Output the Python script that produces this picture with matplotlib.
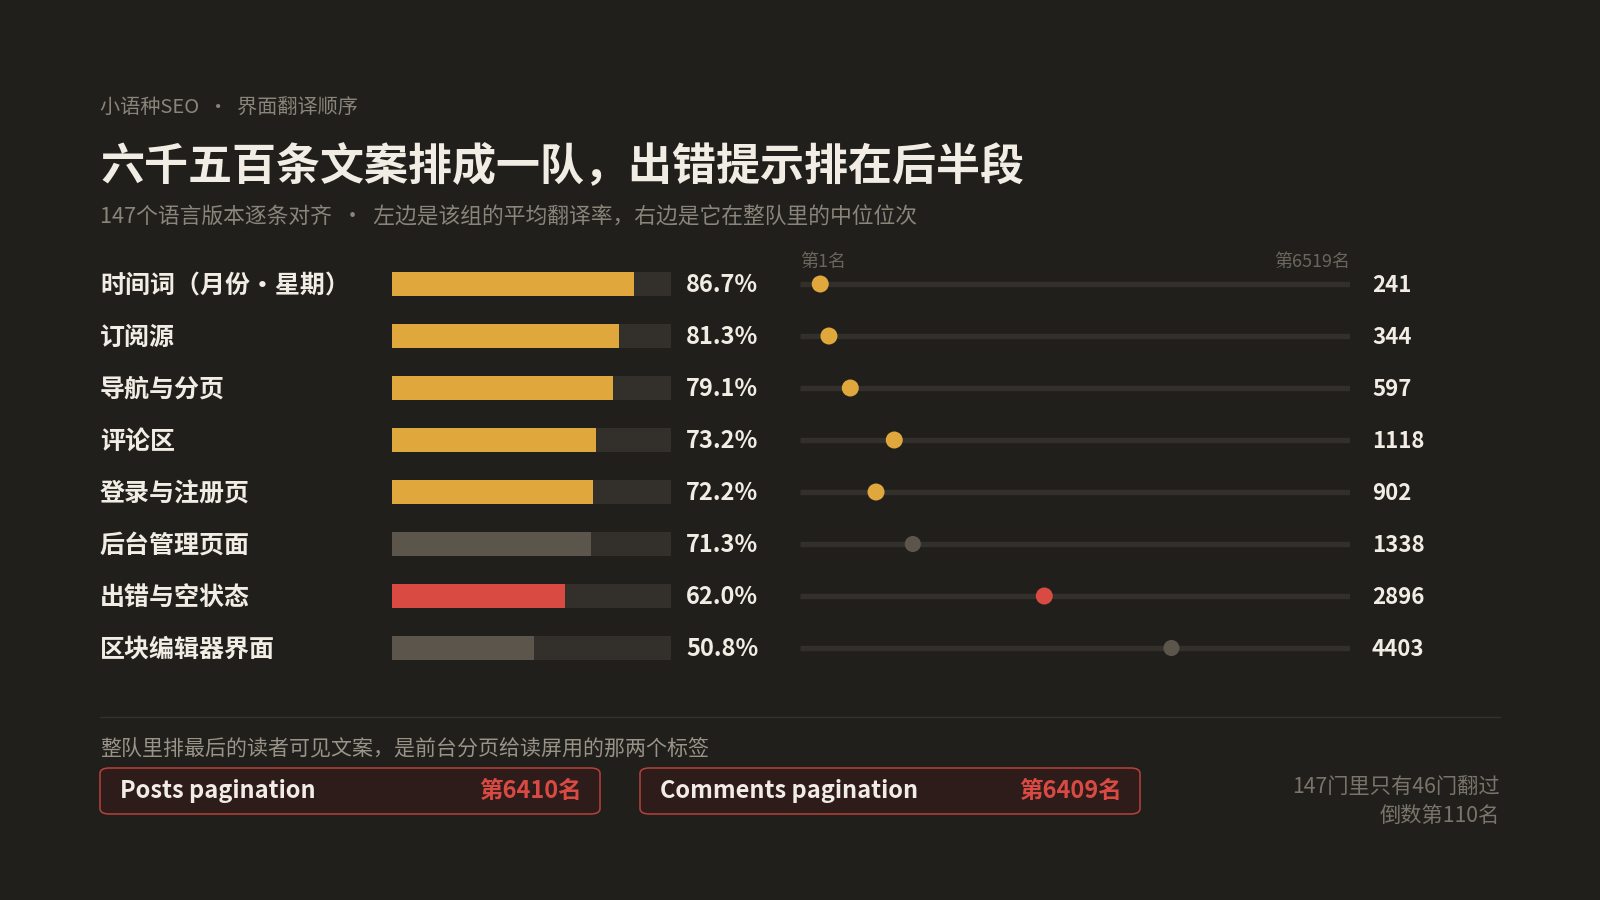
import numpy as np
import matplotlib
matplotlib.use("Agg")
import matplotlib.pyplot as plt
from matplotlib.patches import FancyBboxPatch

plt.rcParams['font.family'] = ['Noto Sans CJK SC', 'DejaVu Sans']

# Data
categories = ["时间词（月份・星期）", "订阅源", "导航与分页", "评论区",
              "登录与注册页", "后台管理页面", "出错与空状态", "区块编辑器界面"]
rates = [86.7, 81.3, 79.1, 73.2, 72.2, 71.3, 62.0, 50.8]
ranks = [241, 344, 597, 1118, 902, 1338, 2896, 4403]
kinds = ["hi", "hi", "hi", "hi", "hi", "base", "err", "base"]
total_rank = 6519
tail_labels = ["Posts pagination", "Comments pagination"]
tail_ranks = [6410, 6409]

# Colours
BG = "#201f1c"
TRACK = "#33302b"
GOLD = "#e0a73c"
RED = "#d94a43"
GREY = "#5b554c"
TXT = "#f2ede4"
MUTED = "#8a847a"
colour = {"hi": GOLD, "base": GREY, "err": RED}

W, H = 1600, 900
fig = plt.figure(figsize=(16, 9), dpi=100, facecolor=BG)


def fx(x):
    return x / W


def fy(y):
    return 1 - y / H


# Header
fig.text(fx(100), fy(108), "小语种SEO  ・  界面翻译顺序", color=MUTED, fontsize=14.5,
         va="center", ha="left")
fig.text(fx(100), fy(166), "六千五百条文案排成一队，出错提示排在后半段", color=TXT,
         fontsize=31.7, fontweight="heavy", va="center", ha="left")
fig.text(fx(100), fy(218), "147个语言版本逐条对齐  ・  左边是该组的平均翻译率，右边是它在整队里的中位位次",
         color=MUTED, fontsize=15.7, va="center", ha="left")

n = len(categories)
row_h = 52
top_px = 284 - row_h / 2
bot_px = top_px + row_h * n

# Bar axes
axb = fig.add_axes([fx(392), fy(bot_px), fx(671 - 392), (bot_px - top_px) / H])
axb.set_facecolor("none")
axb.set_xlim(0, 100)
axb.set_ylim(n - 0.5, -0.5)
y = np.arange(n)
axb.barh(y, [100] * n, height=0.48, color=TRACK, linewidth=0)
axb.barh(y, rates, height=0.48, color=[colour[k] for k in kinds], linewidth=0)
axb.axis("off")
for i in range(n):
    axb.text(105.4, i + 0.02, f"{rates[i]:.1f}%", color=TXT, fontsize=17,
             fontweight="bold", va="center", ha="left")
    axb.text(-1.047, i + 0.04, categories[i], transform=axb.get_yaxis_transform(),
             color=TXT, fontsize=18, fontweight="bold", va="center", ha="left")

# Rank axes
axd = fig.add_axes([fx(800), fy(bot_px), fx(1350 - 800), (bot_px - top_px) / H])
axd.set_facecolor("none")
axd.set_xlim(1, total_rank)
axd.set_ylim(n - 0.5, -0.5)
axd.hlines(y, 1, total_rank, color=TRACK, linewidth=3.9, capstyle="butt")
sizes = [135 if k == "base" else 150 for k in kinds]
axd.scatter(ranks, y, s=sizes, c=[colour[k] for k in kinds], linewidths=0, zorder=3)
axd.axis("off")
for i in range(n):
    axd.text(1.04, i + 0.02, f"{ranks[i]}", transform=axd.get_yaxis_transform(),
             color=TXT, fontsize=16, fontweight="bold", va="center", ha="left")
axd.text(1, -0.42, "第1名", color="#6b655c", fontsize=13, va="center", ha="left")
axd.text(total_rank, -0.42, f"第{total_rank}名", color="#6b655c", fontsize=13,
         va="center", ha="right")

# Separator
fig.add_artist(plt.Line2D([fx(100), fx(1500)], [fy(717), fy(717)], color="#35322d",
                          linewidth=1))

fig.text(fx(100), fy(750), "整队里排最后的读者可见文案，是前台分页给读屏用的那两个标签",
         color="#9a9388", fontsize=15.1, va="center", ha="left")

box_x = [100, 640]
for bx, lab, rk in zip(box_x, tail_labels, tail_ranks):
    box = FancyBboxPatch((fx(bx), fy(814)), fx(500), (814 - 768) / H,
                         boxstyle="round,pad=0,rounding_size=0.006",
                         transform=fig.transFigure, facecolor="#2e1c1b",
                         edgecolor="#b8423b", linewidth=1.1)
    fig.add_artist(box)
    fig.text(fx(bx + 20), fy(791), lab, color=TXT, fontsize=17, fontweight="bold",
             va="center", ha="left")
    fig.text(fx(bx + 482), fy(791), f"第{rk}名", color=RED, fontsize=17,
             fontweight="bold", va="center", ha="right")

fig.text(fx(1500), fy(787), "147门里只有46门翻过", color="#7a746a", fontsize=15.3,
         va="center", ha="right")
fig.text(fx(1500), fy(816), "倒数第110名", color="#7a746a", fontsize=15.3,
         va="center", ha="right")

fig.savefig("out.png", dpi=100, facecolor=BG)
